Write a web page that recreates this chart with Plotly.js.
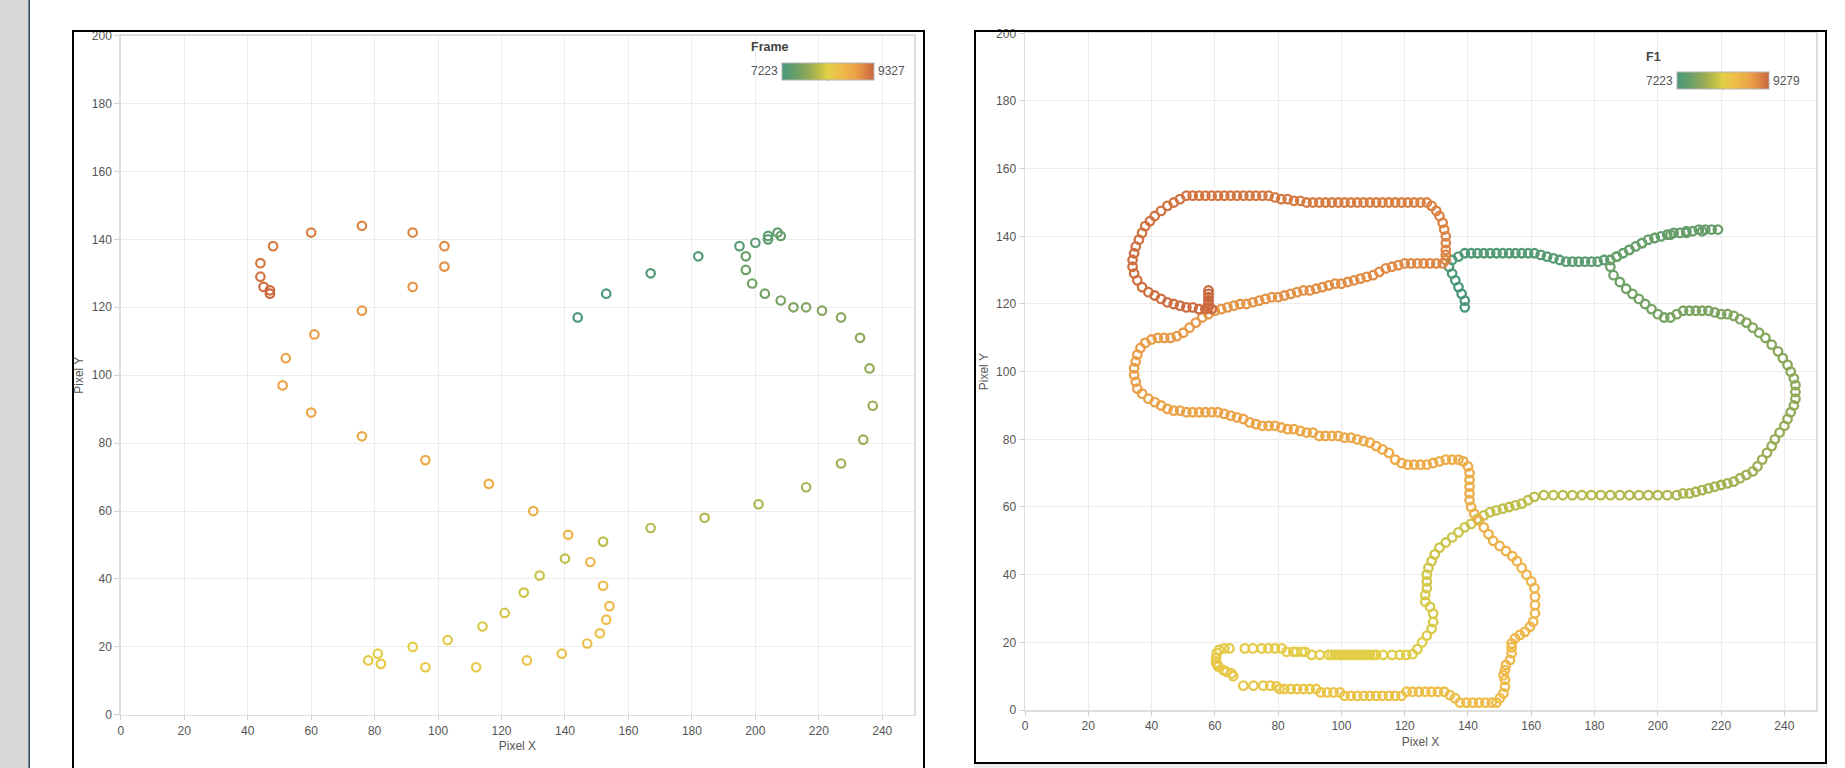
<!DOCTYPE html>
<html><head><meta charset="utf-8">
<script src="https://cdn.plot.ly/plotly-3.0.1.min.js"></script>
<style>html,body{margin:0;padding:0;background:#fff;overflow:hidden}#chart{width:1845px;height:768px}</style>
</head><body><div id="chart"></div>
<script>
// ---------- Left chart: "Frame" ----------
const leftX = [144,153,167,182,195,200,204,204,207,208,197,197,199,203,208,212,216,221,227,233,236,237,234,227,216,201,184,167,152,140,132,127,121,114,103,92,81,78,82,96,112,128,139,147,151,153,154,152,148,141,130,116,96,76,60,51,52,61,76,92,102,102,92,76,60,48,44,44,45,47,47];
const leftY = [117,124,130,135,138,139,140,141,142,141,135,131,127,124,122,120,120,119,117,111,102,91,81,74,67,62,58,55,51,46,41,36,30,26,22,20,18,16,15,14,14,16,18,21,24,28,32,38,45,53,60,68,75,82,89,97,105,112,119,126,132,138,142,144,142,138,133,129,126,125,124];
const leftFrame = [7223,7253,7283,7313,7343,7373,7403,7433,7463,7493,7523,7553,7583,7613,7643,7673,7703,7733,7763,7793,7823,7853,7883,7913,7943,7973,8003,8033,8063,8093,8123,8153,8183,8213,8243,8273,8303,8333,8363,8393,8423,8453,8483,8513,8543,8573,8603,8633,8663,8693,8723,8753,8783,8813,8843,8873,8903,8933,8963,8993,9023,9053,9083,9113,9143,9173,9203,9233,9263,9293,9327];
const leftRange = [7223, 9327];

// ---------- Right chart: "F1" ----------
const rightX = [
 139,139,138,137,136,135,134,135,137,139,
 141,143,145,147,149,151,153,155,157,159,161,163,165,167,169,171,173,175,177,179,181,183,185,
 187,189,191,193,195,197,199,201,203,205,207,209,211,213,215,217,219,
 214,209,204,199,195,191,187,185,186,188,190,192,194,196,198,200,202,204,
 206,208,210,212,214,216,218,220,222,224,226,228,230,232,234,
 236,238,239.5,241,242,243,243.5,243.5,243.5,243,242,241,240,238.5,237,236,234.5,233,231.5,230,228,226,
 224,222,220,218,216,214,212,210,208,206,203,200,197,194,191,188,185,182,179,176,173,170,167,164,161,
 159,157,155,153,151,149,147,145,143,141,139,137,135,133,131,129.5,128.5,127.5,127,127,127,126.5,126.5,128,129,129,128.5,127,125.5,124,122.5,
 120.5,118.5,116,113.2,111,110,109,108,107,106,105,104,103,102,101,100,99,98,97,96,93.2,90.6,88.5,87.5,85.8,84.8,82.7,81.1,79,76.9,74.8,72,69.5,64.6,63,
 61.4,60.6,60.4,60.4,60.8,61.1,62.7,63.7,65.3,65.8,
 69,72.2,75.3,77.5,79.5,80.5,82,84,86,88,90,92,93.5,95.5,97.5,99.5,101,103,105,107,109,111,113,115,117,119,120.6,122.5,124.5,126.5,128.5,130.5,132.5,134.3,135.9,137.5,139.5,141.5,143.5,145.5,147.5,149,
 150.1,151.2,151.7,151.7,151.2,151.7,152,153.3,153.8,153.8,153.8,154.9,156.4,158,159.6,160.6,161.2,161.2,161.2,161,
 160,158.5,157,155.5,154,152,150,148,146.5,145,143.5,142,141,140.5,140.5,140.5,140.5,140.5,140,
 138.5,137,135,133,131,129,127,125,123,121,119,117,115,113,111,109,107,105,103,101,99,97,95,93,91,89,87,85,83,81,79,77,75,73,71,69,67,65,63,61,59,57,55,53,51,49,47,
 45,43,41,39,37,35.5,35,34.5,34.5,35,35.5,36.5,38,40,42,44,46,48,50,52,
 54,56,58,60,62,64,66,68,70,72,74,76,78,80,82,84,86,88,90,92,94,96,98,100,102,104,106,108,110,112,114,116,118,120,122,124,126,128,130,132,133,
 133,133,133,133,132.5,132,131,130,128.5,
 127,125,123,121,119,117,115,113,111,109,107,105,103,101,99,97,95,93,91,89,87,85,83,81,79,77,75,73,71,69,67,65,63,61,59,57,55,53,51,49,
 47,45,43,41,39.5,38,37,36,35,34.5,34,34,34.5,35.5,37,39,41,43,45,47,49,51,53,55,57,59,
 58,58,58,58,58,58
];
const rightY = [
 119,121,123,125,127,129,131,133,134,135,
 135,135,135,135,135,135,135,135,135,135,135,134.5,134,133.5,133,132.5,132.5,132.5,132.5,132.5,132.5,133,133,
 134,135,136,137,138,139,139.5,140,140.5,141,141,141.5,141.5,142,142,142,142,
 141.5,141,140.5,139.5,138,136,134,131,128.5,126.5,124.5,123,121.5,120,118.5,117,116,116,
 117,118,118,118,118,118,117.5,117,117,116.5,115.5,114.5,113,111.5,110,
 108,106,104,102,100,98,96,94,92,90,88,86,84,82,80,78,76,74,72,70.5,69.5,68.5,
 67.5,67,66.5,66,65.5,65,64.5,64,64,63.5,63.5,63.5,63.5,63.5,63.5,63.5,63.5,63.5,63.5,63.5,63.5,63.5,63.5,63.5,63,
 62,61,60.5,60,59.5,59,58.5,57.5,56.5,55,54,52.5,51,49.5,48,46,44,42,40,38,36,34,32,30.5,28.5,26,24,22,20,18,16.5,
 16.3,16.3,16.3,16.3,16.3,16.3,16.3,16.3,16.3,16.3,16.3,16.3,16.3,16.3,16.3,16.3,16.3,16.3,16.3,16.3,16.3,16.3,17.2,17.2,17.2,17.2,17.2,18.2,18.2,18.2,18.2,18.2,18.2,18.2,18.2,
 17.8,16.8,15.3,14,13.3,12.8,11.8,11.3,10.8,10,
 7.2,7.2,7.2,7.2,7,6.2,6.2,6.2,6.2,6.2,6.2,6.2,5.2,5.2,5.2,5.2,4.2,4.2,4.2,4.2,4.2,4.2,4.2,4.2,4.2,4.2,5.4,5.4,5.4,5.4,5.4,5.4,5.4,4.4,3.5,2.2,2.2,2.2,2.2,2.2,2.2,2.2,
 3.5,4.9,6.9,8.9,10.3,11.8,13.3,14.8,16.8,18.5,19.7,21.2,22.2,23.1,24.6,26.1,28.6,31,33.5,36,
 38,40,42,44,45.5,47,48.5,50,52,54,56,58,60,62,64,66,68,70,72,
 73.5,74,74,74,73.5,73,72.5,72.5,72.5,72.5,73,74,76,77,78,79,79.5,80,80.5,80.5,81,81,81,81,82,82,82.5,83,83,83.5,84,84,84,84.5,85,86,86.5,87,87.5,88,88,88,88,88,88,88.5,88.5,
 89,90,91,92,93.5,95,97,99,101,103,105,107,108.5,109.5,110,110,110,110.5,111.5,113,
 114.5,116,117,118,118.5,119,119.5,120,120,120.5,121,121.5,122,122,122.5,123,123.5,124,124,124.5,125,125.5,126,126,126.5,127,127.5,128,128.5,129.5,130.5,131,131.5,132,132,132,132,132,132,132,133,
 134.5,136,138,140,142,144,146,147.5,149,
 150,150,150,150,150,150,150,150,150,150,150,150,150,150,150,150,150,150,150,150,150.5,150.5,151,151,151.5,152,152,152,152,152,152,152,152,152,152,152,152,152,152,151,
 150,149,147.5,146,144.5,143,141,139,137,135,133,131,129,127,125,123.5,122.5,121.5,120.5,120,119.5,119,119,118.5,118.5,118.5,
 119,120,121,122,123,124
];
const rightFrame = [
 7223,7229,7235,7241,7247,7253,7259,7265,7271,7277,
 7283,7289,7295,7301,7307,7313,7319,7325,7331,7337,7343,7349,7355,7361,7367,7373,7379,7385,7391,7397,7403,7409,7415,
 7420,7425,7430,7435,7440,7445,7450,7455,7460,7465,7470,7475,7480,7485,7490,7495,7500,
 7505,7512,7519,7526,7533,7540,7547,7554,7561,7568,7575,7582,7589,7596,7603,7610,7617,7624,
 7630,7636,7642,7648,7654,7660,7666,7672,7678,7684,7690,7696,7702,7708,7714,
 7722,7730,7738,7746,7754,7762,7770,7778,7786,7794,7802,7810,7818,7826,7834,7842,7850,7858,7866,7874,7882,7890,
 7898,7904,7910,7916,7922,7928,7934,7940,7946,7952,7958,7964,7970,7976,7982,7988,7994,8000,8006,8012,8018,8024,8030,8036,8042,
 8048,8054,8060,8066,8072,8078,8084,8090,8096,8102,8108,8114,8120,8126,8132,8138,8144,8150,8156,8162,8168,8174,8180,8186,8192,8198,8204,8210,8216,8222,8228,
 8232,8235,8238,8241,8244,8247,8250,8253,8256,8259,8262,8265,8268,8271,8274,8277,8280,8283,8286,8289,8292,8295,8298,8301,8304,8307,8310,8313,8316,8319,8322,8325,8328,8331,8334,
 8338,8342,8346,8350,8354,8358,8362,8366,8370,8374,
 8380,8384,8388,8392,8396,8400,8404,8408,8412,8416,8420,8424,8428,8432,8436,8440,8444,8448,8452,8456,8460,8464,8468,8472,8476,8480,8484,8488,8492,8496,8500,8504,8508,8512,8516,8520,8524,8528,8532,8536,8540,8544,
 8550,8555,8560,8565,8570,8575,8580,8585,8590,8595,8600,8605,8610,8615,8620,8625,8630,8635,8640,8645,
 8650,8655,8660,8665,8670,8675,8680,8685,8690,8695,8700,8705,8710,8715,8720,8725,8730,8735,8740,
 8744,8747,8749,8752,8754,8757,8759,8762,8764,8767,8769,8772,8774,8777,8779,8782,8784,8787,8789,8792,8794,8797,8799,8802,8804,8807,8809,8812,8814,8817,8819,8822,8824,8827,8829,8832,8834,8837,8839,8842,8844,8847,8849,8852,8854,8857,8859,
 8862,8866,8870,8874,8878,8882,8886,8890,8894,8898,8902,8906,8910,8914,8918,8922,8926,8930,8934,8938,
 8940,8943,8946,8949,8952,8955,8958,8961,8964,8967,8970,8973,8976,8979,8982,8985,8988,8991,8994,8997,9000,9003,9006,9009,9012,9015,9018,9021,9024,9027,9030,9033,9036,9039,9042,9045,9048,9051,9054,9057,9060,
 9063,9066,9069,9072,9075,9078,9081,9084,9087,
 9089,9092,9094,9097,9099,9102,9104,9107,9109,9112,9114,9117,9119,9122,9124,9127,9129,9132,9134,9137,9139,9142,9144,9147,9149,9152,9154,9157,9159,9162,9164,9167,9169,9172,9174,9177,9179,9182,9184,9187,
 9190,9193,9195,9198,9200,9203,9205,9208,9210,9213,9215,9218,9220,9223,9225,9228,9230,9233,9235,9238,9240,9243,9245,9248,9250,9253,
 9256,9261,9266,9270,9275,9279
];
const rightRange = [7223, 9279];

const axisTicks = [0,20,40,60,80,100,120,140,160,180,200,220,240];
const yTicks = [0,20,40,60,80,100,120,140,160,180,200];

// ---------- styling ----------
const W = 1845, H = 768;
const px = x => x / W, py = y => 1 - y / H;
const FONT = 'Arial, "Liberation Sans", sans-serif';
const colorscale = [[0,'#4a987b'],[0.15,'#6a9f68'],[0.3,'#98ab55'],[0.4,'#bcbd4a'],[0.5,'#e3cf46'],[0.65,'#efbb4a'],[0.8,'#eba248'],[0.9,'#dc8444'],[1,'#c9673f']];

function xAxis(d0, d1, anchor) {
  return {domain:[px(d0), px(d1)], range:[0,250], anchor:anchor, tickvals:axisTicks,
    showgrid:true, gridcolor:'#ececec', gridwidth:1, zeroline:false,
    showline:true, mirror:true, linecolor:'#dedede', linewidth:1.5,
    ticks:'outside', ticklen:4, tickcolor:'#d0d0d0',
    tickfont:{family:FONT, size:12, color:'#555'},
    title:{text:'Pixel X', font:{family:FONT, size:12, color:'#555'}, standoff:5}, fixedrange:true};
}
function yAxis(d0, d1, anchor) {
  return {domain:[py(d1), py(d0)], range:[0,200], anchor:anchor, tickvals:yTicks,
    showgrid:true, gridcolor:'#ececec', gridwidth:1, zeroline:false,
    showline:true, mirror:true, linecolor:'#dedede', linewidth:1.5,
    ticks:'outside', ticklen:5, tickcolor:'#d0d0d0',
    tickfont:{family:FONT, size:12, color:'#555'},
    title:{text:'Pixel Y', font:{family:FONT, size:12, color:'#555'}, standoff:5}, fixedrange:true};
}
function cbar(x0, x1, yTop, th) {
  return {orientation:'h', lenmode:'pixels', len:(x1-x0), thickness:th,
    x:px((x0+x1)/2), xanchor:'center', y:py(yTop), yanchor:'top',
    xpad:0, ypad:0, outlinewidth:1, outlinecolor:'#b4b4b4', borderwidth:0,
    showticklabels:false, ticks:'', title:{text:''}};
}

const traces = [
  {type:'scatter', mode:'markers', x:leftX, y:leftY, xaxis:'x', yaxis:'y',
   marker:{symbol:'circle-open', size:8.5, line:{width:2.2}, color:leftFrame,
     colorscale:colorscale, cmin:leftRange[0], cmax:leftRange[1], showscale:true,
     colorbar:cbar(781.7, 874, 62.7, 17.3)}, hoverinfo:'skip'},
  {type:'scatter', mode:'markers', x:rightX, y:rightY, xaxis:'x2', yaxis:'y2',
   marker:{symbol:'circle-open', size:8.5, line:{width:2.3}, color:rightFrame,
     colorscale:colorscale, cmin:rightRange[0], cmax:rightRange[1], showscale:true,
     colorbar:cbar(1677.3, 1769.3, 72.3, 16.7)}, hoverinfo:'skip'}
];

const shapes = [
  {type:'rect', xref:'paper', yref:'paper', x0:0, x1:px(28.5), y0:0, y1:1, fillcolor:'#d7d7d7', line:{width:0}, layer:'below'},
  {type:'line', xref:'paper', yref:'paper', x0:px(29.2), x1:px(29.2), y0:0, y1:1, line:{color:'#24394d', width:1.5}},
  {type:'rect', xref:'paper', yref:'paper', x0:px(73), x1:px(924), y0:py(780), y1:py(31), line:{color:'#000', width:2}, fillcolor:'rgba(0,0,0,0)'},
  {type:'rect', xref:'paper', yref:'paper', x0:px(974), x1:px(1828), y0:py(768), y1:py(764), fillcolor:'#efefef', line:{width:0}},
  {type:'rect', xref:'paper', yref:'paper', x0:px(975), x1:px(1826), y0:py(763), y1:py(31), line:{color:'#000', width:2}, fillcolor:'rgba(0,0,0,0)'},
  {type:'line', xref:'paper', yref:'paper', x0:px(827.8), x1:px(827.8), y0:py(80.5), y1:py(76), line:{color:'#222', width:1}},
  {type:'line', xref:'paper', yref:'paper', x0:px(1723.3), x1:px(1723.3), y0:py(89.5), y1:py(85), line:{color:'#222', width:1}}
];

const annFont = {family:FONT, size:12, color:'#555'};
const annotations = [
  {xref:'paper', yref:'paper', x:px(749), y:py(47.3), xanchor:'left', yanchor:'middle', text:'<b>Frame</b>', showarrow:false, font:{family:FONT, size:12.5, color:'#444'}},
  {xref:'paper', yref:'paper', x:px(779.5), y:py(71.3), xanchor:'right', yanchor:'middle', text:String(leftRange[0]), showarrow:false, font:annFont},
  {xref:'paper', yref:'paper', x:px(875.5), y:py(71.3), xanchor:'left', yanchor:'middle', text:String(leftRange[1]), showarrow:false, font:annFont},
  {xref:'paper', yref:'paper', x:px(1644), y:py(56.7), xanchor:'left', yanchor:'middle', text:'<b>F1</b>', showarrow:false, font:{family:FONT, size:12.5, color:'#444'}},
  {xref:'paper', yref:'paper', x:px(1675), y:py(80.7), xanchor:'right', yanchor:'middle', text:String(rightRange[0]), showarrow:false, font:annFont},
  {xref:'paper', yref:'paper', x:px(1770.5), y:py(80.7), xanchor:'left', yanchor:'middle', text:String(rightRange[1]), showarrow:false, font:annFont}
];

const layout = {
  width:W, height:H, margin:{l:0, r:0, t:0, b:0, pad:0},
  paper_bgcolor:'#ffffff', plot_bgcolor:'#ffffff', showlegend:false,
  font:{family:FONT, color:'#555'},
  xaxis:xAxis(120.8, 914, 'y'), yaxis:yAxis(35.6, 714.8, 'x'),
  xaxis2:xAxis(1025, 1816, 'y2'), yaxis2:yAxis(33.3, 710, 'x2'),
  shapes:shapes, annotations:annotations
};
Plotly.newPlot('chart', traces, layout, {displayModeBar:false, staticPlot:true});
</script></body></html>
